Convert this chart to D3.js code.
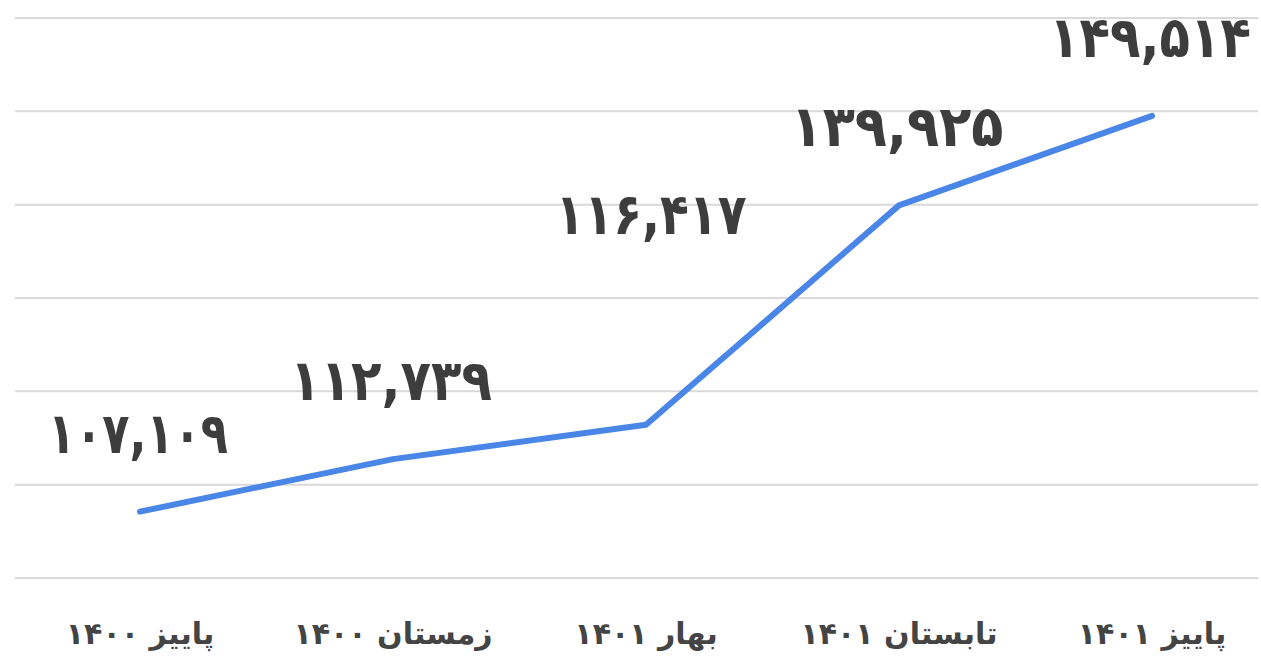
<!DOCTYPE html>
<html><head><meta charset="utf-8">
<script src="https://cdn.jsdelivr.net/npm/d3@7"></script>
<style>body{margin:0;background:#fff}svg{display:block}</style>
</head><body>
<svg id="c" width="1261" height="660"></svg>
<script>
const categories = ["پاییز ۱۴۰۰","زمستان ۱۴۰۰","بهار ۱۴۰۱","تابستان ۱۴۰۱","پاییز ۱۴۰۱"];
const values = [107109, 112739, 116417, 139925, 149514];
const valueLabels = ["۱۰۷,۱۰۹","۱۱۲,۷۳۹","۱۱۶,۴۱۷","۱۳۹,۹۲۵","۱۴۹,۵۱۴"];
const gridTicks = [100000,110000,120000,130000,140000,150000,160000];

const svg = d3.select("#c");
const x = d3.scalePoint().domain(categories).range([140, 1152]);
const y = d3.scaleLinear().domain([100000,160000]).range([578, 18]);

svg.append("g").selectAll("line").data(gridTicks).join("line")
  .attr("x1", 15).attr("x2", 1258)
  .attr("y1", d=>y(d)).attr("y2", d=>y(d))
  .attr("stroke", "#d9d9d9").attr("stroke-width", 2);

const line = d3.line().x((d,i)=>x(categories[i])).y(d=>y(d));
svg.append("path").datum(values).attr("d", line)
  .attr("fill","none").attr("stroke","#4a86e8").attr("stroke-width",6)
  .attr("stroke-linejoin","round").attr("stroke-linecap","round");

// approximate width of the original (narrow ۰ and ۱ glyphs)
const labelWidth = s => Array.from(s).reduce((a,ch)=>a + (ch===","?14:("۰۱".includes(ch)?24:35)),0);

svg.append("g").selectAll("text").data(values).join("text")
  .attr("x", (d,i)=>x(categories[i]) + (i===2?5:-2))
  .attr("y", (d,i)=> i===2 ? y(d) - 191 : y(d) - 59)
  .attr("text-anchor","middle")
  .attr("font-family","DejaVu Sans, sans-serif").attr("font-weight","bold")
  .attr("font-size", 57).attr("fill","#3d3d3d")
  .attr("textLength", (d,i)=>labelWidth(valueLabels[i])).attr("lengthAdjust","spacingAndGlyphs")
  .text((d,i)=>valueLabels[i]);

svg.append("g").selectAll("text").data(categories).join("text")
  .attr("x", d=>x(d)).attr("y", 644)
  .attr("text-anchor","middle").attr("direction","rtl")
  .attr("font-family","DejaVu Sans, sans-serif").attr("font-weight","bold")
  .attr("font-size", 30).attr("fill","#444")
  .text(d=>d);
</script>
</body></html>
